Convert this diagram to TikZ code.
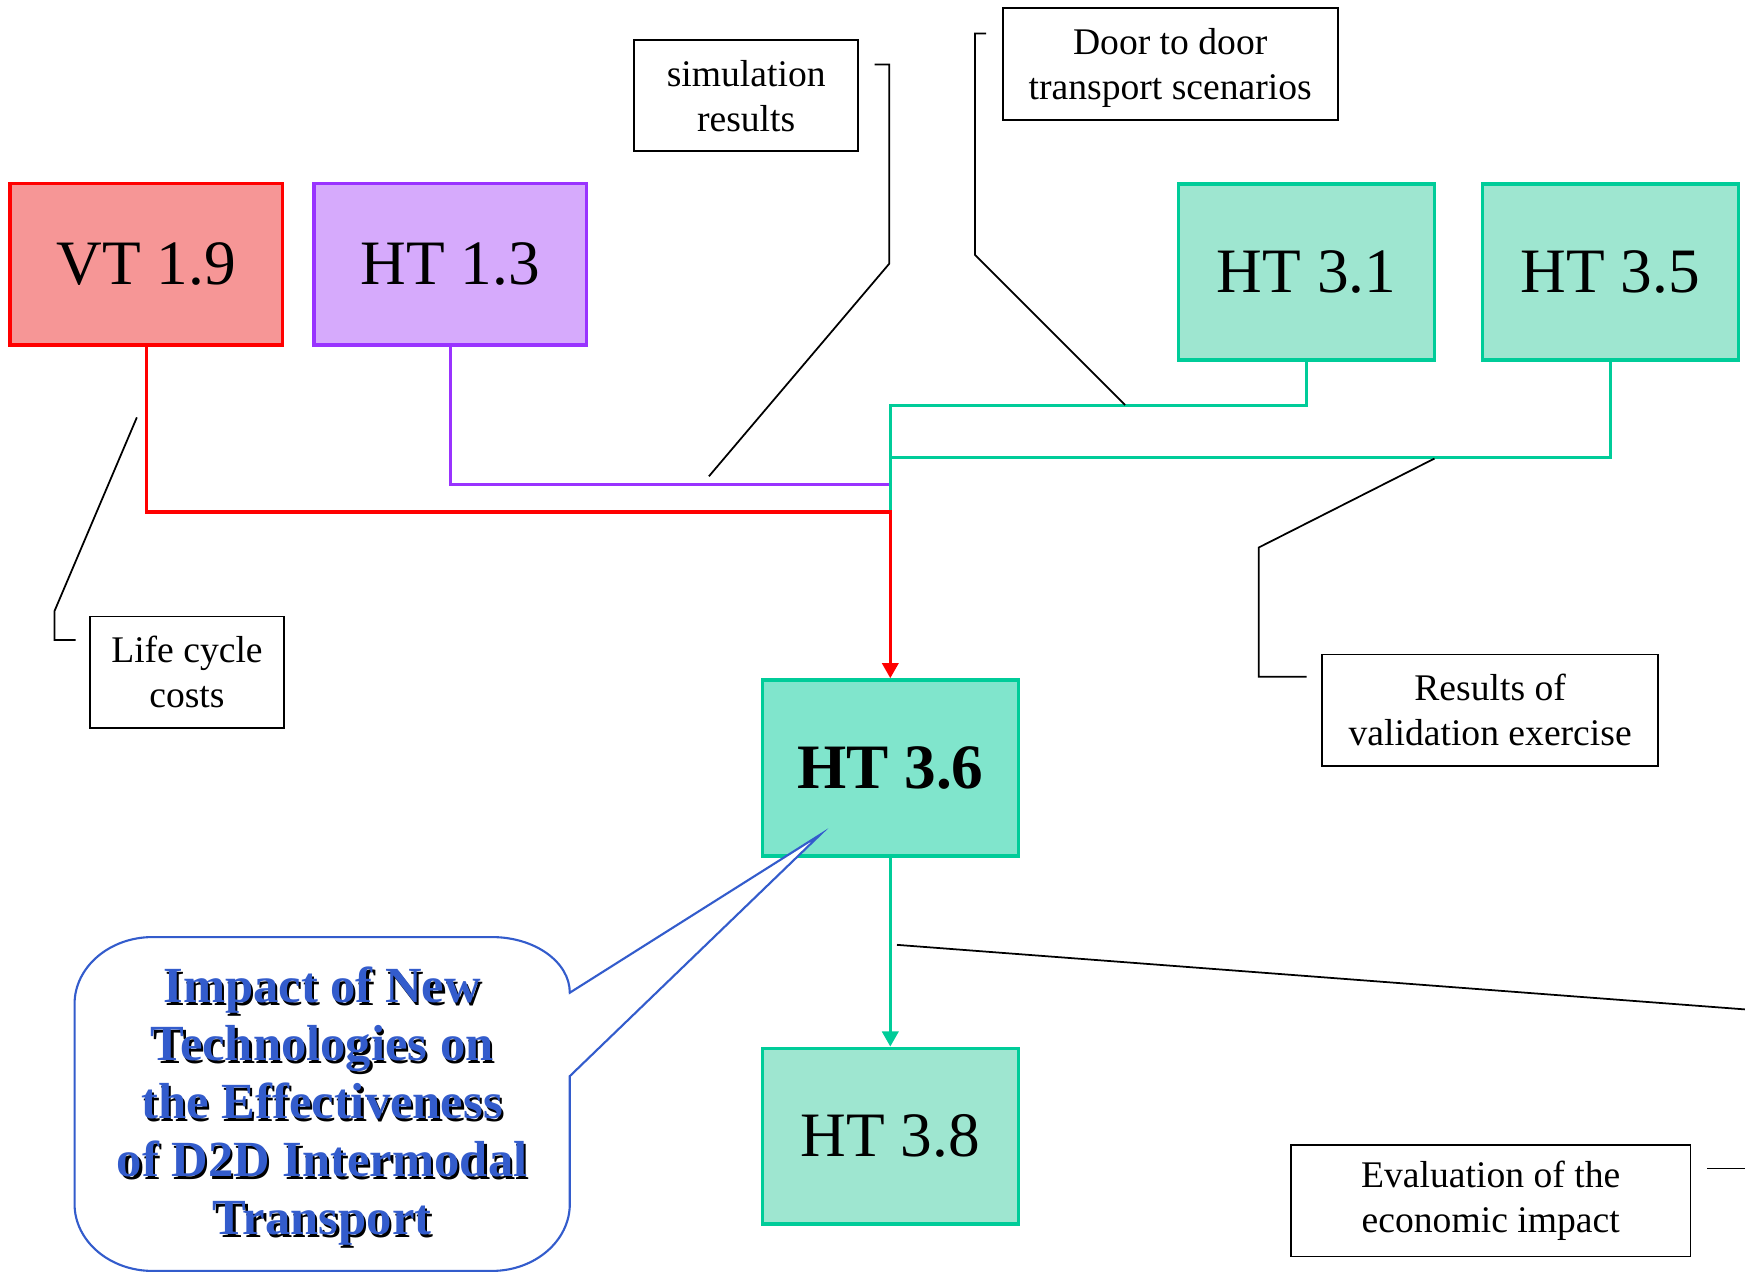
\documentclass[tikz,border=0pt]{standalone}
\usepackage{fontspec}
\setmainfont{Liberation Serif}
\usetikzlibrary{arrows.meta}

\newdimen\px
\px=0.111288mm

\definecolor{vtred}{RGB}{255,0,0}
\definecolor{vtfill}{RGB}{246,150,150}
\definecolor{htpurple}{RGB}{153,51,255}
\definecolor{purplefill}{RGB}{214,170,252}
\definecolor{htteal}{RGB}{0,204,153}
\definecolor{tealfill}{RGB}{158,230,208}
\definecolor{tealsolid}{RGB}{128,229,204}
\definecolor{calloutblue}{RGB}{51,92,204}

\tikzset{
  task/.style={draw, line width=1pt, minimum width=230*\px, minimum height=158*\px,
    inner sep=0pt, font=\fontsize{18}{21}\selectfont},
  wide task/.style={task, minimum width=245*\px, minimum height=145*\px},
  note/.style={draw, line width=0.5pt, inner sep=0pt, align=center,
    font=\fontsize{10.7}{12.8}\selectfont},
  leader/.style={line width=0.5pt},
  link/.style={line width=0.9pt},
  arrowend/.style={-{Triangle[width=4.6pt,length=4.3pt]}},
  callouttext/.style={align=center, inner sep=0pt,
    font=\fontsize{14.4}{16.5}\selectfont\bfseries},
}

\begin{document}
\begin{tikzpicture}[x=0.111288mm, y=-0.111288mm]
\useasboundingbox (0,0) rectangle (1568,1145);

% work package boxes
\node[wide task, draw=vtred, fill=vtfill] (vt19) at (131.5,237.5) {VT 1.9};
\node[wide task, draw=htpurple, fill=purplefill] (ht13) at (404.5,237.5) {HT 1.3};
\node[task, draw=htteal, fill=tealfill] (ht31) at (1174,244.5) {HT 3.1};
\node[task, draw=htteal, fill=tealfill] (ht35) at (1447,244.5) {HT 3.5};
\node[task, draw=htteal, fill=tealsolid, font=\fontsize{18}{21}\selectfont\bfseries] (ht36) at (800,690) {HT 3.6};
\node[task, draw=htteal, fill=tealfill] (ht38) at (800,1021) {HT 3.8};

% annotation boxes
\node[note, minimum width=201*\px, minimum height=100*\px] (sim) at (670.5,86) {simulation\\results};
\node[note, minimum width=301*\px, minimum height=101*\px, text depth=0pt] (door) at (1051.5,57.5) {Door to door\\transport scenarios};
\node[note, minimum width=174*\px, minimum height=100*\px] (life) at (168,604) {Life cycle\\costs};
\node[note, minimum width=302*\px, minimum height=100*\px] (valid) at (1339,638) {Results of\\validation exercise};
\node[note, minimum width=359*\px, minimum height=100*\px] (eval) at (1339.5,1079) {Evaluation of the\\economic impact};

% junction points of the input flows
\coordinate (jr) at (800,460);
\coordinate (jp) at (800,435);
\coordinate (j31) at (800,364);
\coordinate (j35) at (800,411);

\draw[link, htpurple] (ht13.south) |- (jp);
\draw[link, htteal] (ht31.south) |- (j31) -- (jr);
\draw[link, htteal] (ht35.south) |- (j35);
\draw[link, vtred, arrowend] (vt19.south) |- (jr) -- (ht36.north);
\draw[link, htteal, arrowend] (ht36.south) -- (ht38.north);

% leader lines of the annotations
\coordinate (simA) at (786,58);
\coordinate (simB) at (637,428);
\draw[leader] (simA) -- (799,58) -- (799,237) -- (simB);

\coordinate (doorA) at (886,30);
\coordinate (doorB) at (1011,364);
\draw[leader] (doorA) -- (876,30) -- (876,229) -- (doorB);

\coordinate (lifeA) at (68,575);
\coordinate (lifeB) at (123,375);
\draw[leader] (lifeA) -- (49,575) -- (49,549) -- (lifeB);

\coordinate (validA) at (1174,608);
\coordinate (validB) at (1289,412);
\draw[leader] (validA) -- (1131,608) -- (1131,492) -- (validB);

\coordinate (evalA) at (1534,1050);
\coordinate (evalB) at (1568,1050);
\draw[leader] (evalA) -- (evalB);
\coordinate (evalC) at (806,849);
\coordinate (evalD) at (1568,907);
\draw[leader] (evalC) -- (evalD);

% speech bubble pointing at HT 3.6
\coordinate (bubbletip) at (737,750);
\draw[calloutblue, line width=0.6pt, fill=white]
  (137,842) -- (442,842)
  .. controls (480.6,842) and (512,864.4) .. (512,892)
  -- (bubbletip) -- (512,967) -- (512,1082)
  .. controls (512,1115) and (480.6,1142) .. (442,1142)
  -- (137,1142)
  .. controls (98.4,1142) and (67,1115) .. (67,1082)
  -- (67,902)
  .. controls (67,869) and (98.4,842) .. (137,842) -- cycle;

\node[callouttext, text=black] (calloutshade) at (291.5,996.5)
  {Impact of New\\Technologies on\\the Effectiveness\\of D2D Intermodal\\Transport};
\node[callouttext, text=calloutblue] (callout) at (289.5,994)
  {Impact of New\\Technologies on\\the Effectiveness\\of D2D Intermodal\\Transport};
\end{tikzpicture}
\end{document}
